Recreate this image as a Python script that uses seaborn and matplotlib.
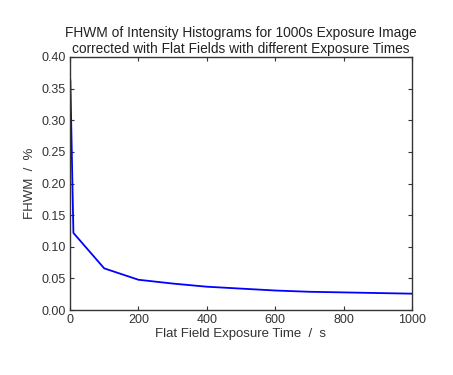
import pandas as pd
import seaborn as sns
import matplotlib
matplotlib.use("Agg")
import matplotlib.pyplot as plt

exposure_times = [1, 10, 100, 200, 300, 400, 500, 600, 700, 800, 900, 1000]
fwhm_values = [0.364, 0.122, 0.066, 0.048, 0.042, 0.037, 0.034, 0.031, 0.029, 0.028, 0.027, 0.026]

df = pd.DataFrame({'exposure': exposure_times, 'fwhm': fwhm_values})

sns.set_style("ticks")
plt.rcParams['font.family'] = ['Liberation Sans', 'DejaVu Sans']

fig = plt.figure(figsize=(4.53, 3.75), dpi=100)
ax = fig.add_axes([0.1545, 0.173, 0.755, 0.675])

sns.lineplot(data=df, x='exposure', y='fwhm', color='blue', linewidth=1.3, ax=ax)

ax.set_xlim(0, 1000)
ax.set_ylim(0, 0.40)
ax.set_xticks([0, 200, 400, 600, 800, 1000])
ax.set_yticks([0.0, 0.05, 0.10, 0.15, 0.20, 0.25, 0.30, 0.35, 0.40])
ax.set_yticklabels(['%.2f' % v for v in ax.get_yticks()])

for spine in ax.spines.values():
    spine.set_visible(True)
    spine.set_color('#333333')
    spine.set_linewidth(1.0)

ax.tick_params(direction='in', top=True, right=True, length=3, width=0.8,
               labelsize=9, colors='#333333', pad=3)

ax.set_xlabel('Flat Field Exposure Time  /  s', fontsize=9.5, color='#333333', labelpad=1)
ax.set_ylabel('FHWM  /  %', fontsize=9.5, color='#333333', labelpad=4)
ax.set_title('FHWM of Intensity Histograms for 1000s Exposure Image\n'
             'corrected with Flat Fields with different Exposure Times',
             fontsize=9.9, color='#222222', pad=3, linespacing=1.15)

plt.savefig('out.png', dpi=100)
